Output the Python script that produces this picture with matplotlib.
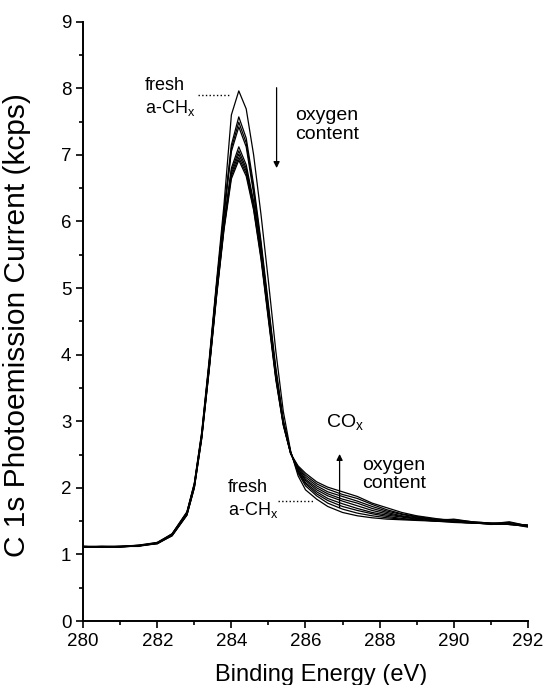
import numpy as np
import matplotlib
matplotlib.use('Agg')
import matplotlib.pyplot as plt
from matplotlib.ticker import MultipleLocator

plt.rcParams['font.family'] = ['Liberation Sans', 'DejaVu Sans']
plt.rcParams['mathtext.fontset'] = 'custom'
plt.rcParams['mathtext.rm'] = 'Liberation Sans'

# binding energy grid (eV), shared by all spectra
energy = [280.0, 280.5, 281.0, 281.5, 282.0, 282.4, 282.8, 283.0, 283.2, 283.4,
          283.6, 283.8, 284.0, 284.2, 284.4, 284.6, 284.8, 285.0, 285.2, 285.4,
          285.6, 285.8, 286.0, 286.3, 286.6, 287.0, 287.4, 287.8, 288.2, 288.6,
          289.0, 289.5, 290.0, 290.5, 291.0, 291.5, 292.0]

# C 1s spectra (kcps), fresh a-CHx first, then increasing oxygen content
c0 = [1.12, 1.12, 1.12, 1.14, 1.18, 1.31, 1.64, 2.07, 2.84, 3.92, 5.10, 6.25,
      7.60, 7.96, 7.69, 7.00, 6.10, 5.10, 4.05, 3.15, 2.55,
      2.18, 1.97, 1.83, 1.72, 1.63, 1.58, 1.55, 1.53, 1.52, 1.51, 1.50, 1.48, 1.47, 1.46, 1.45, 1.44]
c1 = [1.11, 1.11, 1.12, 1.13, 1.17, 1.30, 1.63, 2.05, 2.82, 3.88, 5.05, 6.15,
      7.15, 7.57, 7.25, 6.55, 5.70, 4.75, 3.80, 3.02, 2.54,
      2.22, 2.03, 1.88, 1.77, 1.68, 1.62, 1.58, 1.55, 1.53, 1.52, 1.50, 1.49, 1.47, 1.46, 1.46, 1.42]
c2 = [1.12, 1.11, 1.11, 1.13, 1.17, 1.31, 1.63, 2.06, 2.81, 3.87, 5.03, 6.12,
      7.10, 7.49, 7.18, 6.48, 5.65, 4.70, 3.76, 3.00, 2.53,
      2.24, 2.06, 1.91, 1.81, 1.72, 1.66, 1.61, 1.57, 1.54, 1.52, 1.51, 1.52, 1.48, 1.47, 1.45, 1.43]
c3 = [1.11, 1.12, 1.12, 1.13, 1.18, 1.30, 1.62, 2.05, 2.80, 3.86, 5.02, 6.10,
      7.05, 7.42, 7.12, 6.42, 5.60, 4.66, 3.73, 2.99, 2.53,
      2.25, 2.08, 1.94, 1.84, 1.76, 1.69, 1.63, 1.59, 1.56, 1.53, 1.50, 1.50, 1.48, 1.45, 1.46, 1.44]
c4 = [1.12, 1.12, 1.11, 1.14, 1.17, 1.29, 1.61, 2.03, 2.78, 3.82, 4.95, 5.98,
      6.80, 7.12, 6.85, 6.30, 5.55, 4.62, 3.70, 2.98, 2.52,
      2.27, 2.11, 1.97, 1.88, 1.80, 1.73, 1.66, 1.61, 1.57, 1.54, 1.52, 1.49, 1.47, 1.46, 1.49, 1.43]
c5 = [1.11, 1.11, 1.12, 1.13, 1.17, 1.29, 1.60, 2.02, 2.77, 3.80, 4.93, 5.95,
      6.76, 7.06, 6.80, 6.26, 5.52, 4.60, 3.68, 2.97, 2.52,
      2.28, 2.13, 2.00, 1.91, 1.83, 1.77, 1.69, 1.63, 1.58, 1.55, 1.51, 1.53, 1.49, 1.47, 1.45, 1.44]
c6 = [1.12, 1.11, 1.11, 1.13, 1.16, 1.29, 1.60, 2.01, 2.76, 3.79, 4.91, 5.92,
      6.72, 7.01, 6.76, 6.23, 5.49, 4.58, 3.66, 2.96, 2.52,
      2.30, 2.16, 2.03, 1.94, 1.87, 1.80, 1.72, 1.65, 1.60, 1.56, 1.52, 1.50, 1.48, 1.46, 1.45, 1.42]
c7 = [1.11, 1.12, 1.12, 1.12, 1.17, 1.28, 1.59, 2.00, 2.75, 3.77, 4.89, 5.90,
      6.68, 6.96, 6.72, 6.20, 5.46, 4.55, 3.64, 2.95, 2.51,
      2.31, 2.19, 2.06, 1.98, 1.90, 1.84, 1.75, 1.67, 1.61, 1.57, 1.53, 1.52, 1.49, 1.47, 1.48, 1.43]
c8 = [1.12, 1.11, 1.12, 1.13, 1.16, 1.28, 1.59, 2.00, 2.74, 3.76, 4.87, 5.87,
      6.64, 6.92, 6.68, 6.17, 5.43, 4.52, 3.62, 2.94, 2.51,
      2.33, 2.22, 2.09, 2.01, 1.94, 1.87, 1.77, 1.70, 1.63, 1.58, 1.54, 1.50, 1.48, 1.46, 1.46, 1.41]

spectra = [c0, c1, c2, c3, c4, c5, c6, c7, c8]

fig = plt.figure(figsize=(5.47, 6.85), dpi=100)
ax = fig.add_axes([0.152, 0.0934, 0.813, 0.875])

for s in spectra:
    ax.plot(energy, s, '-', color='black', lw=0.9)

ax.set_xlim(280, 292)
ax.set_ylim(0, 9)
ax.xaxis.set_major_locator(MultipleLocator(2))
ax.xaxis.set_minor_locator(MultipleLocator(1))
ax.yaxis.set_major_locator(MultipleLocator(1))
ax.yaxis.set_minor_locator(MultipleLocator(0.5))

for side in ['top', 'right']:
    ax.spines[side].set_visible(False)
for side in ['left', 'bottom']:
    ax.spines[side].set_linewidth(1.4)

ax.tick_params(which='major', direction='out', length=5, width=1.2, labelsize=13.5)
ax.tick_params(which='minor', direction='out', length=3, width=1.2)

ax.set_xlabel('Binding Energy (eV)', fontsize=17)
ax.xaxis.set_label_coords(0.535, -0.072)
ax.set_ylabel('C 1s Photoemission Current (kcps)', fontsize=21.5)
ax.yaxis.set_label_coords(-0.118, 0.494)

# annotations at the peak
ax.text(281.67, 7.86, 'fresh\na-CH$_{\\rm x}$', fontsize=13, va='center', ha='left', linespacing=1.25)
ax.plot([283.1, 283.96], [7.9, 7.9], ':', color='black', lw=1.0)
ax.annotate('', xy=(285.22, 6.76), xytext=(285.22, 8.05),
            arrowprops=dict(arrowstyle='-|>', color='black', lw=0.9, mutation_scale=9))
ax.text(285.72, 7.45, 'oxygen\ncontent', fontsize=14, va='center', ha='left', linespacing=1.15)

# annotations at the shoulder
ax.text(283.91, 1.82, 'fresh\na-CH$_{\\rm x}$', fontsize=13, va='center', ha='left', linespacing=1.25)
ax.plot([285.27, 286.23], [1.8, 1.8], ':', color='black', lw=1.0)
ax.annotate('', xy=(286.92, 2.55), xytext=(286.92, 1.66),
            arrowprops=dict(arrowstyle='-|>', color='black', lw=0.9, mutation_scale=9))
ax.text(286.55, 2.98, 'CO$_{\\rm x}$', fontsize=14, va='center', ha='left')
ax.text(287.52, 2.2, 'oxygen\ncontent', fontsize=14, va='center', ha='left', linespacing=1.15)

fig.savefig('out.png', dpi=100)
